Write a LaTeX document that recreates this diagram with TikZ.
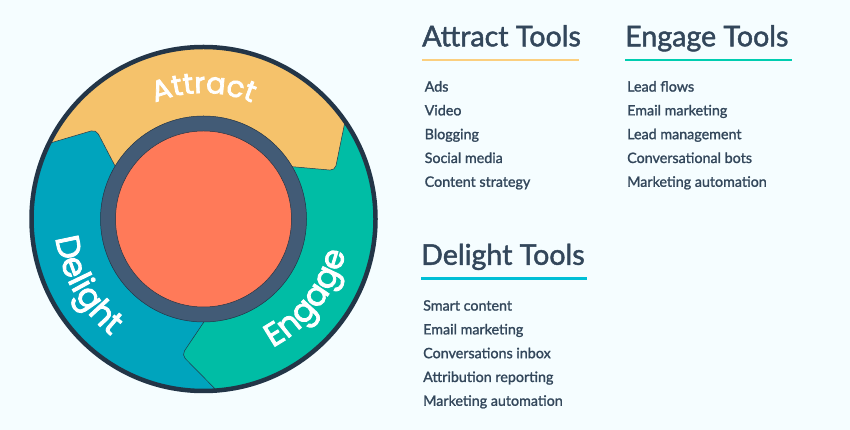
\documentclass[tikz,border=0pt]{standalone}
\usepackage{fontspec}
\setmainfont{Lato}
\newfontfamily\wheelfont[FakeBold=2.6]{Poppins}
\newfontfamily\headfont[FakeBold=1.6]{Lato}
\newfontfamily\itemfont[FakeBold=1.4]{Lato}
\usetikzlibrary{decorations.text}
\definecolor{pagebg}{HTML}{F5FDFF}
\definecolor{attractcol}{HTML}{F5C26B}
\definecolor{engagecol}{HTML}{00BDA5}
\definecolor{delightcol}{HTML}{00A4BD}
\definecolor{ringcol}{HTML}{425B76}
\definecolor{hubcol}{HTML}{FF7A59}
\definecolor{rimcol}{HTML}{233547}
\definecolor{inkcol}{HTML}{33475B}
\definecolor{rulecyan}{HTML}{00BFD6}
\definecolor{ruleteal}{HTML}{00CDB0}
\definecolor{ruleyellow}{HTML}{FBCF7F}
\def\rimcircle{(203.5,211) circle (172)}
\def\ringcircle{(203.5,211) circle (103)}
\def\hubcircle{(203.5,211) circle (88)}
\tikzset{
    wheeledge/.style={draw=rimcol, line width=0.5pt},
    headtext/.style={anchor=base west, inner sep=0pt, text=inkcol, font=\headfont\fontsize{28.6}{28.6}\selectfont},
    itemtext/.style={anchor=base west, inner sep=0pt, text=inkcol, font=\itemfont\fontsize{14.3}{14.3}\selectfont},
    headrule/.style={line width=2.6pt},
    wheeltext/.style={decorate, decoration={text along path, text align=center, text={#1}}}
}
\begin{document}
\begin{tikzpicture}[x=1pt,y=1pt]
    \useasboundingbox (0,0) rectangle (850,430);
    \fill[pagebg] (0,0) rectangle (850,430);
    \coordinate (hub) at (203.5,211);

    % wheel
    \begin{scope}
        \clip \rimcircle;
        \fill[delightcol] \rimcircle;
        \filldraw[wheeledge, fill=engagecol] (220,132) [rounded corners=5pt] -- (181.7,75) [sharp corners] -- (235,21) -- (400,21) -- (400,330) -- (220,330) -- cycle;
        \filldraw[wheeledge, fill=attractcol] (30,281) [rounded corners=5pt] -- (96,300.5) [sharp corners] -- (125,245) -- (270,265.3) [rounded corners=5pt] -- (335,259.5) [sharp corners] -- (350,333) -- (350,430) -- (30,430) -- cycle;
    \end{scope}
    \draw[rimcol, line width=4.5pt] \rimcircle;
    \filldraw[wheeledge, fill=ringcol] \ringcircle;
    \filldraw[wheeledge, fill=hubcol] \hubcircle;

    % wheel labels
    \path[wheeltext={|\wheelfont\fontsize{29}{29}\selectfont\color{white}|Attract}] ([shift={(135:126)}]hub) arc (135:45:126);
    \path[wheeltext={|\wheelfont\fontsize{33}{33}\selectfont\color{white}|Delight}] ([shift={(164.5:149)}]hub) arc (164.5:254.5:149);
    \path[wheeltext={|\wheelfont\fontsize{32.5}{32.5}\selectfont\color{white}|Engage}] ([shift={(277.5:146)}]hub) arc (277.5:367.5:146);

    % tool lists
    \node[headtext] (attracthead) at (422,383.7) {Attract Tools};
    \node[headtext] (engagehead) at (625,383.7) {Engage Tools};
    \node[headtext] (delighthead) at (421,165.2) {Delight Tools};
    \coordinate (attractruleend) at (579,370);
    \coordinate (engageruleend) at (792,370);
    \coordinate (delightruleend) at (587,151.5);
    \draw[headrule, ruleyellow] (attracthead.base west |- attractruleend) -- (attractruleend);
    \draw[headrule, ruleteal] (engagehead.base west |- engageruleend) -- (engageruleend);
    \draw[headrule, rulecyan] (delighthead.base west |- delightruleend) -- (delightruleend);
    \foreach \tool [count=\i] in {Ads,Video,Blogging,Social media,Content strategy}
        \node[itemtext] (attract\i) at (424.5,362.2-23.8*\i) {\tool};
    \foreach \tool [count=\i] in {Lead flows,Email marketing,Lead management,Conversational bots,Marketing automation}
        \node[itemtext] (engage\i) at (627,362.2-23.8*\i) {\tool};
    \foreach \tool [count=\i] in {Smart content,Email marketing,Conversations inbox,Attribution reporting,Marketing automation}
        \node[itemtext] (delight\i) at (423,143.2-23.8*\i) {\tool};
\end{tikzpicture}
\end{document}
